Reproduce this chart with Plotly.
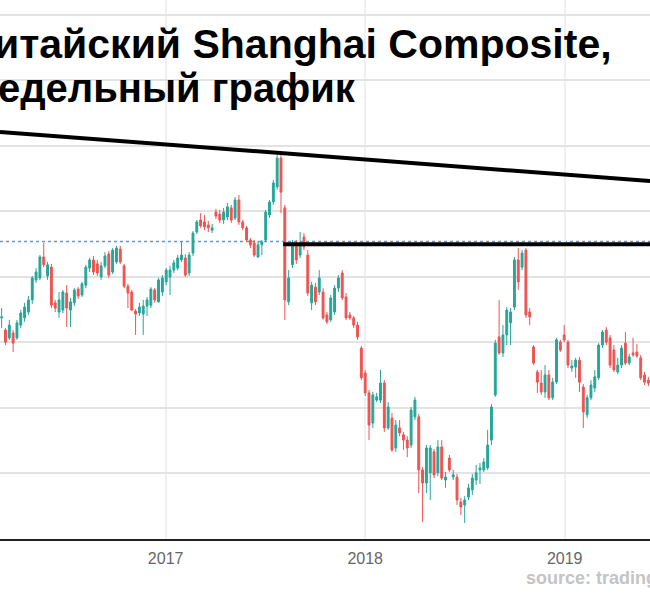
import pandas as pd
import plotly.graph_objects as go

# ---------------- data ----------------
title_line1 = "Китайский Shanghai Composite,"
title_line2 = "Недельный график"
source_text = "source: tradingview.com"

first_week = "2016-03-07"
n_weeks = 170

opens = [3075, 3038, 3014, 3029, 3014, 3053, 3075, 3093, 3130, 3191,
         3197, 3261, 3203, 3230, 3121, 3093, 3099, 3151, 3099, 3121,
         3163, 3145, 3175, 3227, 3252, 3240, 3200, 3234, 3270, 3215,
         3246, 3285, 3234, 3172, 3154, 3096, 3090, 3087, 3111, 3114,
         3160, 3124, 3154, 3185, 3200, 3221, 3227, 3252, 3258, 3212,
         3273, 3337, 3374, 3368, 3359, 3343, 3398, 3392, 3374, 3383,
         3411, 3380, 3435, 3368, 3350, 3313, 3304, 3261, 3298, 3313,
         3389, 3429, 3475, 3563, 3411, 3124, 3237, 3298, 3267, 3322,
         3267, 3121, 3169, 3154, 3154, 3084, 3069, 3093, 3166, 3212,
         3139, 3084, 3075, 3053, 2983, 2907, 2846, 2754, 2824, 2824,
         2876, 2739, 2769, 2678, 2739, 2718, 2702, 2687, 2773, 2773,
         2611, 2571, 2602, 2666, 2602, 2681, 2580, 2647, 2589, 2589,
         2513, 2504, 2528, 2550, 2580, 2611, 2611, 2617, 2702, 2840,
         3017, 2968, 3023, 3060, 3108, 3252, 3230, 3282, 3093, 2986,
         2910, 2876, 2849, 2901, 2831, 2879, 3001, 3023, 3001, 2922,
         2925, 2946, 2864, 2779, 2831, 2861, 2892, 2992, 3038, 3014,
         2977, 2910, 2931, 2998, 2937, 2968, 2971, 2953, 2901, 2885]

highs = [3105, 3044, 3069, 3038, 3069, 3099, 3121, 3142, 3203, 3227,
         3267, 3304, 3246, 3240, 3130, 3154, 3160, 3175, 3136, 3166,
         3169, 3185, 3237, 3258, 3264, 3252, 3246, 3276, 3279, 3288,
         3295, 3295, 3240, 3179, 3160, 3102, 3121, 3130, 3139, 3169,
         3166, 3197, 3206, 3227, 3234, 3252, 3267, 3307, 3270, 3276,
         3340, 3374, 3395, 3389, 3371, 3362, 3408, 3405, 3411, 3426,
         3420, 3444, 3450, 3374, 3356, 3319, 3313, 3310, 3313, 3405,
         3435, 3496, 3572, 3582, 3420, 3221, 3313, 3313, 3337, 3334,
         3282, 3185, 3182, 3221, 3166, 3093, 3145, 3175, 3206, 3221,
         3151, 3093, 3081, 3063, 2989, 2916, 2855, 2849, 2846, 2916,
         2885, 2818, 2785, 2763, 2763, 2727, 2714, 2803, 2834, 2782,
         2620, 2687, 2687, 2675, 2702, 2702, 2605, 2657, 2611, 2599,
         2525, 2531, 2568, 2599, 2626, 2632, 2647, 2733, 2812, 3008,
         3130, 3053, 3108, 3105, 3261, 3288, 3282, 3288, 3105, 2992,
         2916, 2916, 2931, 2916, 2892, 3014, 3008, 3053, 3008, 2946,
         2953, 2956, 2873, 2840, 2885, 2916, 2998, 3038, 3047, 3023,
         2992, 2953, 2992, 3032, 2965, 3014, 2995, 2962, 2910, 2895]

lows = [3044, 2992, 3008, 2971, 3008, 3044, 3063, 3084, 3118, 3182,
        3191, 3230, 3191, 3105, 3093, 3075, 3090, 3047, 3047, 3111,
        3133, 3139, 3166, 3215, 3206, 3203, 3191, 3227, 3197, 3209,
        3240, 3240, 3166, 3105, 3096, 3023, 3081, 3023, 3081, 3105,
        3121, 3121, 3142, 3175, 3145, 3212, 3221, 3246, 3200, 3203,
        3264, 3331, 3350, 3343, 3337, 3334, 3377, 3365, 3362, 3374,
        3365, 3374, 3359, 3343, 3307, 3288, 3261, 3258, 3267, 3307,
        3380, 3420, 3466, 3395, 3069, 3114, 3227, 3240, 3258, 3282,
        3142, 3099, 3114, 3145, 3069, 3056, 3063, 3084, 3154, 3130,
        3069, 3069, 3044, 3008, 2885, 2837, 2702, 2739, 2818, 2815,
        2727, 2733, 2666, 2666, 2714, 2672, 2650, 2678, 2763, 2540,
        2452, 2540, 2519, 2586, 2592, 2580, 2556, 2605, 2580, 2504,
        2473, 2449, 2519, 2534, 2565, 2568, 2605, 2611, 2687, 2834,
        2962, 2956, 2992, 2992, 3099, 3160, 3221, 3075, 3053, 2931,
        2846, 2840, 2831, 2824, 2824, 2873, 2971, 3001, 2922, 2910,
        2892, 2849, 2739, 2769, 2824, 2849, 2885, 2983, 2992, 2922,
        2910, 2904, 2922, 2931, 2931, 2956, 2953, 2885, 2870, 2867]

closes = [3078, 3001, 3053, 2998, 3060, 3090, 3108, 3130, 3197, 3215,
          3261, 3237, 3237, 3114, 3105, 3130, 3154, 3105, 3124, 3160,
          3142, 3179, 3230, 3252, 3215, 3212, 3234, 3264, 3206, 3282,
          3288, 3246, 3172, 3151, 3099, 3087, 3108, 3111, 3130, 3163,
          3130, 3191, 3197, 3221, 3221, 3243, 3258, 3267, 3206, 3267,
          3334, 3368, 3356, 3353, 3350, 3350, 3386, 3374, 3398, 3414,
          3374, 3435, 3368, 3350, 3313, 3298, 3267, 3298, 3307, 3398,
          3429, 3487, 3563, 3459, 3130, 3197, 3298, 3252, 3304, 3292,
          3151, 3175, 3124, 3197, 3075, 3063, 3136, 3166, 3197, 3136,
          3075, 3075, 3053, 3017, 2892, 2846, 2748, 2840, 2834, 2876,
          2739, 2803, 2672, 2748, 2724, 2702, 2678, 2794, 2824, 2611,
          2571, 2678, 2678, 2596, 2681, 2586, 2589, 2611, 2596, 2519,
          2498, 2519, 2556, 2586, 2602, 2617, 2635, 2687, 2803, 2998,
          2968, 3023, 3099, 3093, 3252, 3185, 3273, 3084, 3078, 2937,
          2879, 2849, 2901, 2831, 2879, 3008, 2977, 3008, 2931, 2928,
          2946, 2879, 2788, 2831, 2870, 2895, 2992, 3032, 3001, 2931,
          2916, 2931, 2983, 2937, 2956, 2962, 2959, 2892, 2879, 2876]

# drawn levels
trend_dates = ["2016-03-04", "2019-06-06"]
trend_values = [3643, 3493]
resistance_start = "2017-08-04"
resistance_end = "2019-06-06"
resistance_value = 3300
last_price_value = 3308

x_range = ["2016-03-04", "2019-06-06"]
y_range = [2400, 4045.6]
year_ticks = ["2017-01-01", "2018-01-01", "2019-01-01"]
year_labels = ["2017", "2018", "2019"]

dates = pd.date_range(first_week, periods=n_weeks, freq="7D")

# ---------------- figure ----------------
fig = go.Figure()

fig.add_shape(type="line", xref="paper", yref="y", x0=0, x1=1,
              y0=last_price_value, y1=last_price_value,
              line=dict(color="#5b9bd5", width=1.5, dash="dot"), layer="below")

fig.add_trace(go.Candlestick(
    x=dates, open=opens, high=highs, low=lows, close=closes,
    increasing=dict(line=dict(color="#26a69a", width=1), fillcolor="#26a69a"),
    decreasing=dict(line=dict(color="#ef5350", width=1), fillcolor="#ef5350"),
    whiskerwidth=0, showlegend=False, hoverinfo="skip"))

fig.add_trace(go.Scatter(x=trend_dates, y=trend_values, mode="lines",
                         line=dict(color="#000000", width=4),
                         showlegend=False, hoverinfo="skip"))
fig.add_trace(go.Scatter(x=[resistance_start, resistance_end],
                         y=[resistance_value, resistance_value], mode="lines",
                         line=dict(color="#000000", width=4),
                         showlegend=False, hoverinfo="skip"))

fig.add_annotation(text="<b>" + title_line1 + "</b>", xref="paper", yref="paper",
                   x=-33 / 650, y=1 - 44 / 539, xanchor="left", yanchor="middle",
                   showarrow=False, font=dict(family="Liberation Sans", size=41, color="#000000"))
fig.add_annotation(text="<b>" + title_line2 + "</b>", xref="paper", yref="paper",
                   x=-33 / 650, y=1 - 88 / 539, xanchor="left", yanchor="middle",
                   showarrow=False, font=dict(family="Liberation Sans", size=40, color="#000000"))
fig.add_annotation(text="<b>" + source_text + "</b>", xref="paper", yref="paper",
                   x=524 / 650, y=-39 / 539, xanchor="left", yanchor="middle",
                   showarrow=False, font=dict(family="Liberation Sans", size=18, color="#c4c4c4"))

fig.update_layout(
    width=650, height=600,
    margin=dict(l=0, r=0, t=0, b=61),
    paper_bgcolor="#ffffff", plot_bgcolor="#ffffff",
    xaxis=dict(type="date", range=x_range, rangeslider=dict(visible=False),
               tickvals=year_ticks, ticktext=year_labels,
               showgrid=True, gridcolor="#edf0f5", gridwidth=1.5,
               showline=True, linecolor="#222222", linewidth=1.5,
               ticks="", ticklabelstandoff=4,
               tickfont=dict(family="Liberation Sans", size=16, color="#666666"),
               zeroline=False, fixedrange=True),
    yaxis=dict(range=y_range, dtick=200, tick0=2400, showgrid=True,
               gridcolor="#e3e3e3", gridwidth=1.5, showticklabels=False,
               zeroline=False, showline=False, ticks=""),
    showlegend=False,
)

fig.write_html("out.html", config={"displayModeBar": False},
               post_script="document.body.style.margin='0';")
